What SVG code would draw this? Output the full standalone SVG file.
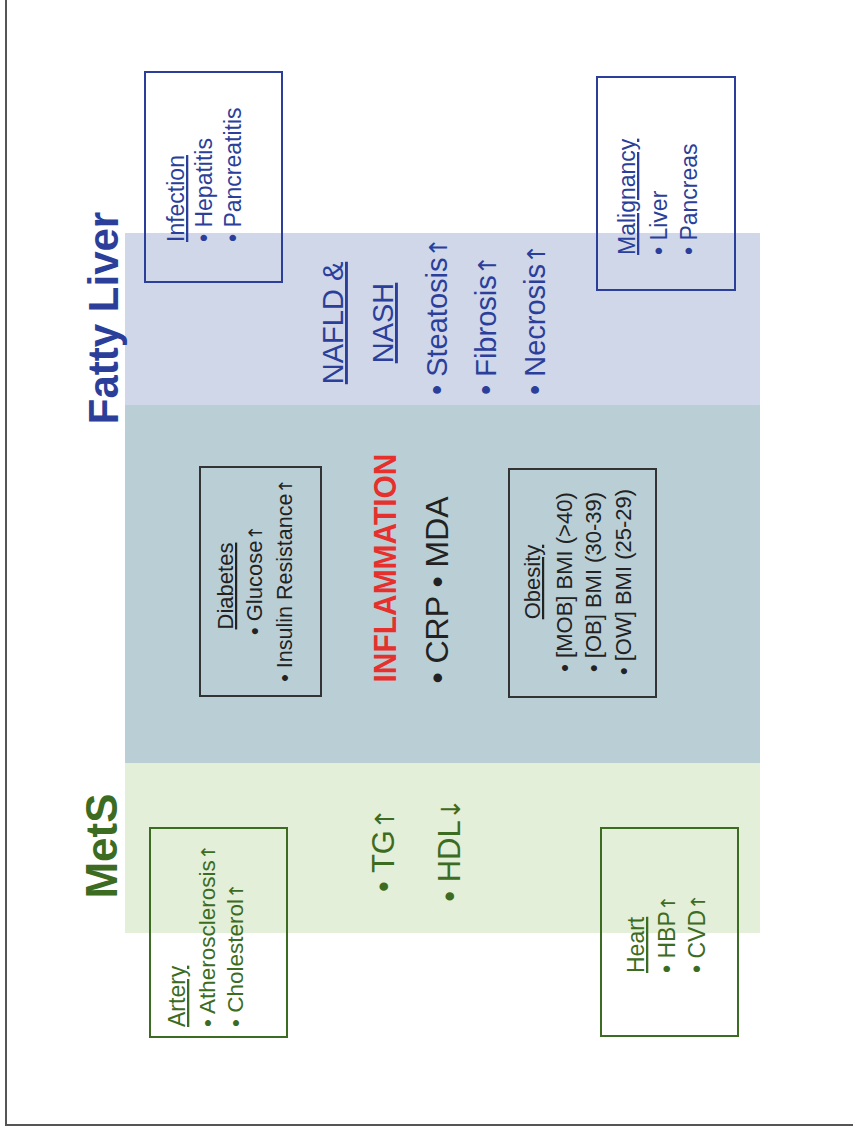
<svg xmlns="http://www.w3.org/2000/svg" width="853" height="1130" viewBox="0 0 853 1130">
<style>
text{font-family:"Liberation Sans",Arial,sans-serif;}
.ar{font-family:"DejaVu Sans",sans-serif;font-size:0.85em;}
.blue{fill:#2b3f9a;}
.green{fill:#3c6b22;}
.dark{fill:#222;}
.u{text-decoration:underline;}
.bxb{fill:none;stroke:#2b3f9a;stroke-width:2;}
.bxg{fill:none;stroke:#3c6b22;stroke-width:2;}
.bxd{fill:none;stroke:#333;stroke-width:2;}
.s22{font-size:22px;}
.s23{font-size:23px;}
.m{text-anchor:middle;}
</style>
<rect width="853" height="1130" fill="#fff"/>
<g id="frame">
<path d="M6 0 V1125 H853" fill="none" stroke="#555" stroke-width="2"/>
</g>
<g id="bands">
<rect x="125" y="233" width="635" height="172" fill="#d0d7e9"/>
<rect x="125" y="405" width="635" height="358" fill="#bacfd5"/>
<rect x="125" y="763" width="635" height="170" fill="#e3efd8"/>
</g>
<g id="title-fatty-liver">
<text transform="translate(118,318) rotate(-90)" class="blue m" font-size="42" font-weight="bold">Fatty Liver</text>
</g>
<g id="title-mets">
<text transform="translate(117,846) rotate(-90)" class="green m" font-size="44" font-weight="bold">MetS</text>
</g>
<g id="infection">
<rect x="145" y="72" width="137" height="210" class="bxb"/>
<text transform="translate(184,242) rotate(-90)" class="blue s23 u">Infection</text>
<text transform="translate(212,242) rotate(-90)" class="blue s23">• Hepatitis</text>
<text transform="translate(241,242) rotate(-90)" class="blue s23">• Pancreatitis</text>
</g>
<g id="malignancy">
<rect x="597" y="77" width="138" height="213" class="bxb"/>
<text transform="translate(635,255) rotate(-90)" class="blue s23 u">Malignancy</text>
<text transform="translate(667,255) rotate(-90)" class="blue s23">• Liver</text>
<text transform="translate(697,255) rotate(-90)" class="blue s23">• Pancreas</text>
</g>
<g id="nafld">
<text transform="translate(343,323) rotate(-90)" class="blue m u" font-size="29">NAFLD &amp;</text>
<text transform="translate(393,323) rotate(-90)" class="blue m u" font-size="29">NASH</text>
<text transform="translate(447,395) rotate(-90)" class="blue" font-size="29">• Steatosis<tspan class="ar">↑</tspan></text>
<text transform="translate(496,395) rotate(-90)" class="blue" font-size="29">• Fibrosis<tspan class="ar">↑</tspan></text>
<text transform="translate(545,395) rotate(-90)" class="blue" font-size="29">• Necrosis<tspan class="ar">↑</tspan></text>
</g>
<g id="diabetes">
<rect x="200" y="467" width="121" height="229" class="bxd"/>
<text transform="translate(233,586) rotate(-90)" class="dark s22 m u">Diabetes</text>
<text transform="translate(262,580) rotate(-90)" class="dark s22 m">• Glucose<tspan class="ar">↑</tspan></text>
<text transform="translate(292,580) rotate(-90)" class="dark m" font-size="21.5">• Insulin Resistance<tspan class="ar">↑</tspan></text>
</g>
<g id="inflammation">
<text transform="translate(396,568) rotate(-90)" class="m" fill="#e5302d" font-size="32" font-weight="bold" textLength="229" lengthAdjust="spacingAndGlyphs">INFLAMMATION</text>
<text transform="translate(448,590) rotate(-90)" class="dark m" font-size="32">• CRP  • MDA</text>
</g>
<g id="obesity">
<rect x="509" y="469" width="147" height="228" class="bxd"/>
<text transform="translate(540,582) rotate(-90)" class="dark s22 m u">Obesity</text>
<text transform="translate(572,582) rotate(-90)" class="dark s22 m">• [MOB] BMI (&gt;40)</text>
<text transform="translate(601,582) rotate(-90)" class="dark s22 m">• [OB] BMI (30-39)</text>
<text transform="translate(631,582) rotate(-90)" class="dark s22 m">• [OW] BMI (25-29)</text>
</g>
<g id="mets-markers">
<text transform="translate(394,850) rotate(-90)" class="green m" font-size="31">• TG<tspan class="ar">↑</tspan></text>
<text transform="translate(460,850) rotate(-90)" class="green m" font-size="31">• HDL<tspan class="ar">↓</tspan></text>
</g>
<g id="artery">
<rect x="150" y="828" width="137" height="209" class="bxg"/>
<text transform="translate(185,1027) rotate(-90)" class="green s23 u">Artery</text>
<text transform="translate(215,1027) rotate(-90)" class="green" font-size="22.5">• Atherosclerosis<tspan class="ar">↑</tspan></text>
<text transform="translate(243,1027) rotate(-90)" class="green" font-size="22.5">• Cholesterol<tspan class="ar">↑</tspan></text>
</g>
<g id="heart">
<rect x="601" y="828" width="137" height="208" class="bxg"/>
<text transform="translate(644,973) rotate(-90)" class="green s23 u">Heart</text>
<text transform="translate(675,973) rotate(-90)" class="green s23">• HBP<tspan class="ar">↑</tspan></text>
<text transform="translate(705,973) rotate(-90)" class="green s23">• CVD<tspan class="ar">↑</tspan></text>
</g>
<g id="connectors"/>
</svg>
